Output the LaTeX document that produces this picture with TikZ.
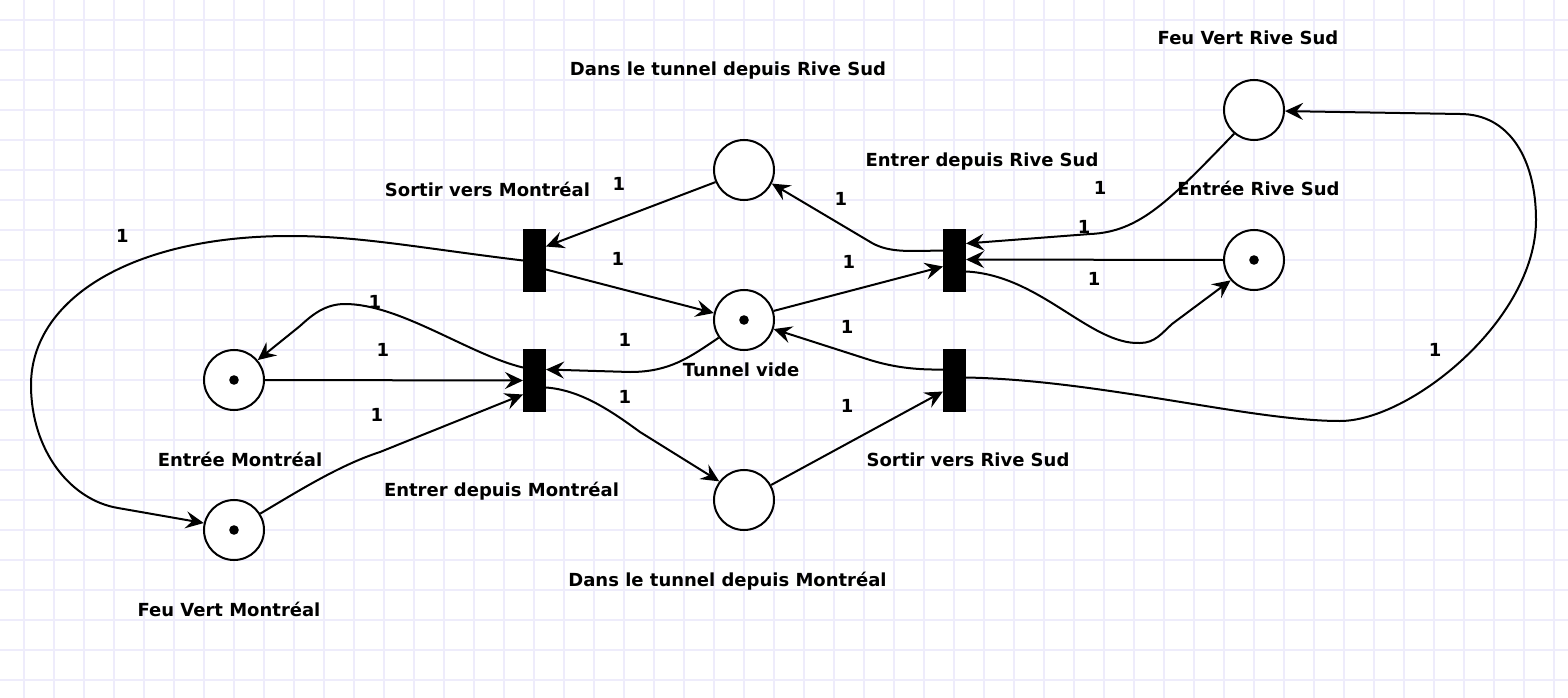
\documentclass[tikz,border=0pt]{standalone}
\usepackage{fontspec}
\setmainfont{DejaVu Sans}
\usetikzlibrary{arrows.meta}
\definecolor{gridc}{RGB}{238,236,251}
\begin{document}
\begin{tikzpicture}[x=1pt,y=-1pt,
  place/.style={circle,draw,line width=2pt,minimum size=60pt,inner sep=0pt,fill=white},
  trans/.style={rectangle,fill=black,minimum width=23pt,minimum height=63pt,inner sep=0pt,outer sep=0pt},
  lbl/.style={font=\bfseries\fontsize{18}{20}\selectfont,anchor=base,inner sep=0pt},
  arc/.style={line width=2pt,-{Stealth[length=18pt,width=17pt,inset=6.5pt]}},
  gridline/.style={gridc,line width=1.5pt}]
\useasboundingbox (0,0) rectangle (1568,698);
\fill[white] (0,0) rectangle (1568,698);
\foreach \x in {24,54,...,1568} \draw[gridline] (\x,0) -- (\x,698);
\foreach \y in {20,50,...,698} \draw[gridline] (0,\y) -- (1568,\y);

% places
\node[place] (pDRS) at (744,170) {};
\node[place] (pFVRS) at (1254,110) {};
\node[place] (pERS) at (1254,260) {};
\node[place] (pTV) at (744,320) {};
\node[place] (pEM) at (234,380) {};
\node[place] (pFVM) at (234,530) {};
\node[place] (pDM) at (744,500) {};
% tokens
\foreach \p in {pERS,pTV,pEM,pFVM} \fill (\p.center) circle (4.8pt);
% transitions
\node[trans] (tSM) at (534.5,260.5) {};
\node[trans] (tEM) at (534.5,380.5) {};
\node[trans] (tERS) at (954.5,260.5) {};
\node[trans] (tSRS) at (954.5,380.5) {};

% arcs
\draw[arc] (pDRS.203) -- ([yshift=14pt]tSM.east);
\draw[arc] ([yshift=-9pt]tSM.east) -- (pTV.167);
\draw[arc] (tSM.west) .. controls (420,248) and (360,236) .. (290,236) .. controls (130,236) and (31,300) .. (31,385) .. controls (31,450) and (70,500) .. (118,508) -- (pFVM.167);
\draw[arc] (pTV.17) -- ([yshift=-6pt]tERS.west);
\draw[arc] ([yshift=10pt]tERS.west) .. controls (910,251) and (890,253) .. (872,243) -- (pDRS.-26);
\draw[arc] (pFVRS.230) .. controls (1170,200) and (1140,232) .. (1090,234) -- ([yshift=17pt]tERS.east);
\draw[arc] (pERS.west) -- ([yshift=1pt]tERS.east);
\draw[arc] ([yshift=-11pt]tERS.east) .. controls (1040,275) and (1090,345) .. (1140,343) .. controls (1155,343) and (1162,333) .. (1172,324) -- (pERS.221);
\draw[arc] (pTV.215) .. controls (690,357) and (670,372) .. (630,372) -- ([yshift=11pt]tEM.east);
\draw[arc] ([yshift=11pt]tSRS.west) .. controls (915,370) and (893,367) .. (870,360) -- (pTV.-17);
\draw[arc] (pDM.29) -- ([yshift=-11pt]tSRS.west);
\draw[arc] ([yshift=3pt]tSRS.east) .. controls (1100,380) and (1250,421) .. (1340,421) .. controls (1410,421) and (1536,320) .. (1536,220) .. controls (1536,160) and (1510,114) .. (1460,114) -- (pFVRS.-2);
\draw[arc] ([yshift=-7pt]tEM.east) .. controls (580,390) and (610,410) .. (640,432) -- (pDM.143);
\draw[arc] (pEM.east) -- (tEM.west);
\draw[arc] (pFVM.32) .. controls (300,490) and (340,465) .. (380,452) -- ([yshift=-14pt]tEM.west);
\draw[arc] ([yshift=13pt]tEM.west) .. controls (470,355) and (400,304) .. (345,304) .. controls (325,304) and (312,315) .. (300,326) -- (pEM.40);

% labels
\node[lbl] (lFVRS) at (1248,45) {Feu Vert Rive Sud};
\node[lbl] (lDRS) at (728,76) {Dans le tunnel depuis Rive Sud};
\node[lbl] (lERSt) at (982,166) {Entrer depuis Rive Sud};
\node[lbl] (lSM) at (487.5,196) {Sortir vers Montréal};
\node[lbl] (lERS) at (1258.5,195) {Entrée Rive Sud};
\node[lbl] (lTV) at (741,376) {Tunnel vide};
\node[lbl] (lEM) at (240,466) {Entrée Montréal};
\node[lbl] (lEMt) at (501.5,496) {Entrer depuis Montréal};
\node[lbl] (lSRS) at (968,466) {Sortir vers Rive Sud};
\node[lbl] (lDM) at (727.5,586) {Dans le tunnel depuis Montréal};
\node[lbl] (lFVM) at (229,616) {Feu Vert Montréal};

% weights
\node[lbl] (w1) at (122.5,242) {1};
\node[lbl] (w2) at (619,190) {1};
\node[lbl] (w3) at (618,265) {1};
\node[lbl] (w4) at (375,308) {1};
\node[lbl] (w5) at (383,356) {1};
\node[lbl] (w6) at (377,421) {1};
\node[lbl] (w7) at (625,346) {1};
\node[lbl] (w8) at (625,403) {1};
\node[lbl] (w9) at (841,205) {1};
\node[lbl] (w10) at (849,268) {1};
\node[lbl] (w11) at (847,333) {1};
\node[lbl] (w12) at (847,412) {1};
\node[lbl] (w13) at (1100,194) {1};
\node[lbl] (w14) at (1084,233) {1};
\node[lbl] (w15) at (1094,285) {1};
\node[lbl] (w16) at (1435,356) {1};
\end{tikzpicture}
\end{document}
